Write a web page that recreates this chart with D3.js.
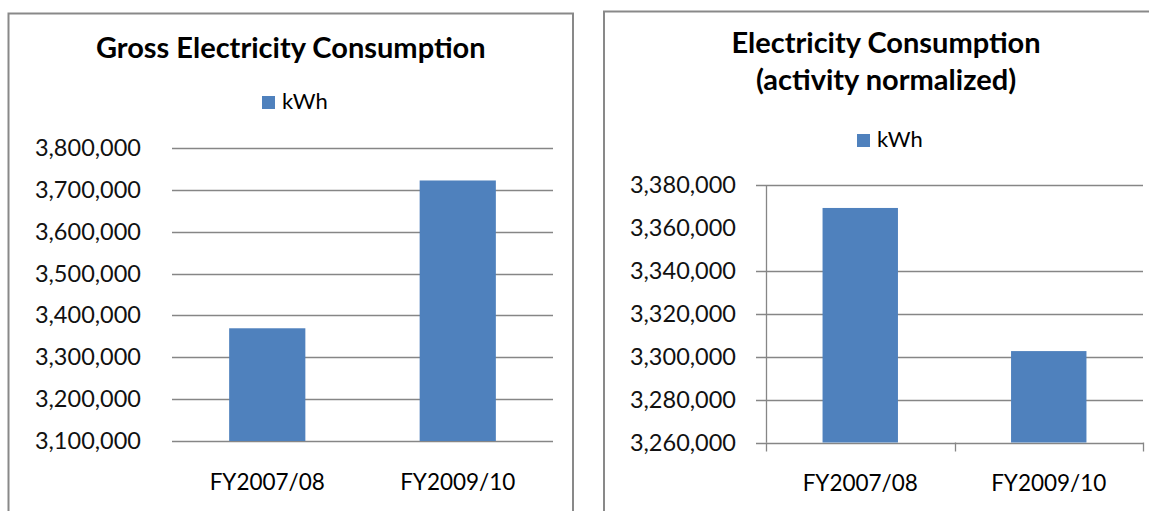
<!DOCTYPE html>
<html>
<head>
<meta charset="utf-8">
<script src="https://cdn.jsdelivr.net/npm/d3@7"></script>
<style>
  body { margin: 0; background: #fff; }
  svg { display: block; font-family: Lato, "Open Sans", sans-serif; }
</style>
</head>
<body>
<svg width="1149" height="511"></svg>
<script>
// data
var categories = ['FY2007/08', 'FY2009/10'];
var grossKwh = [3369300, 3722400];
var normalizedKwh = [3369300, 3302600];
var grossTicks = [3100000, 3200000, 3300000, 3400000, 3500000, 3600000, 3700000, 3800000];
var normalizedTicks = [3260000, 3280000, 3300000, 3320000, 3340000, 3360000, 3380000];
// the 3,360,000 gridline is not drawn in the original
var normalizedGrid = [3260000, 3280000, 3300000, 3320000, 3340000, 3380000];
var seriesName = 'kWh';

var barColor = '#4F81BD';
var lineColor = '#868686';
var fmt = d3.format(',');

var svg = d3.select('svg');

function drawPanel(p) {
  // frame
  svg.append('rect')
    .attr('x', p.frame[0]).attr('y', p.frame[1])
    .attr('width', p.frame[2]).attr('height', p.frame[3])
    .attr('fill', 'none').attr('stroke', '#898989').attr('stroke-width', 2);

  var cx = p.frame[0] + p.frame[2] / 2;

  // title
  var title = svg.append('text')
    .attr('text-anchor', 'middle')
    .attr('font-weight', 'bold')
    .attr('font-size', 29)
    .attr('fill', '#000');
  p.title.forEach(function (t, i) {
    title.append('tspan').attr('x', cx).attr('y', p.titleY + i * 37).text(t);
  });

  // legend
  var lg = svg.append('g').attr('transform', 'translate(' + p.legend[0] + ',' + p.legend[1] + ')');
  lg.append('rect').attr('x', 0).attr('y', -13).attr('width', 13).attr('height', 13).attr('fill', barColor);
  lg.append('text').attr('x', 20).attr('y', 0).attr('font-size', 22).attr('fill', '#000').text(seriesName);

  var x = d3.scaleBand().domain(categories).range([p.left, p.right]).paddingInner(0.6).paddingOuter(0.3);
  var y = d3.scaleLinear().domain(d3.extent(p.ticks)).range([p.bottom, p.top]);

  // gridlines
  svg.append('g').selectAll('line').data(p.grid).enter().append('line')
    .attr('x1', p.left - p.tick).attr('x2', p.right)
    .attr('y1', function (d) { return Math.round(y(d)) + 0.5; })
    .attr('y2', function (d) { return Math.round(y(d)) + 0.5; })
    .attr('stroke', lineColor).attr('stroke-width', 1.3);

  // bars
  svg.append('g').selectAll('rect').data(p.values).enter().append('rect')
    .attr('x', function (d, i) { return x(categories[i]); })
    .attr('width', x.bandwidth())
    .attr('y', function (d) { return y(d); })
    .attr('height', function (d) { return y(y.domain()[0]) - y(d); })
    .attr('fill', barColor);

  // y labels
  var ya = svg.append('g')
    .attr('transform', 'translate(' + p.left + ',0)')
    .call(d3.axisLeft(y).tickValues(p.ticks).tickFormat(fmt).tickSize(0).tickPadding(p.labelPad));
  ya.select('.domain').remove();
  ya.selectAll('text').attr('font-size', 23.5).attr('font-family', 'Lato, sans-serif').attr('fill', '#111');

  // x labels
  var xa = svg.append('g')
    .attr('transform', 'translate(0,' + p.bottom + ')')
    .call(d3.axisBottom(x).tickSize(0).tickPadding(33));
  xa.select('.domain').remove();
  xa.selectAll('text').attr('font-size', 22.5).attr('font-family', 'Lato, sans-serif').attr('fill', '#000');

  if (p.axisLines) {
    svg.append('line')
      .attr('x1', p.left + 0.5).attr('x2', p.left + 0.5)
      .attr('y1', p.top).attr('y2', p.bottom)
      .attr('stroke', lineColor).attr('stroke-width', 1.3);
    // category boundary ticks
    var edges = [p.left, (p.left + p.right) / 2, p.right];
    svg.append('g').selectAll('line').data(edges).enter().append('line')
      .attr('x1', function (d) { return Math.round(d) + 0.5; })
      .attr('x2', function (d) { return Math.round(d) + 0.5; })
      .attr('y1', p.bottom).attr('y2', p.bottom + 9)
      .attr('stroke', lineColor).attr('stroke-width', 1.3);
  }
}

drawPanel({
  frame: [8.5, 13.5, 564.5, 520],
  title: ['Gross Electricity Consumption'],
  titleY: 58,
  legend: [262, 109],
  values: grossKwh,
  ticks: grossTicks,
  grid: grossTicks,
  left: 172, right: 553, top: 148, bottom: 441,
  tick: 0, labelPad: 31,
  axisLines: false
});

drawPanel({
  frame: [604, 11.5, 564, 520],
  title: ['Electricity Consumption', '(activity normalized)'],
  titleY: 53,
  legend: [857, 147],
  values: normalizedKwh,
  ticks: normalizedTicks,
  grid: normalizedGrid,
  left: 766, right: 1143, top: 185, bottom: 442.5,
  tick: 10, labelPad: 30,
  axisLines: true
});
</script>
</body>
</html>
